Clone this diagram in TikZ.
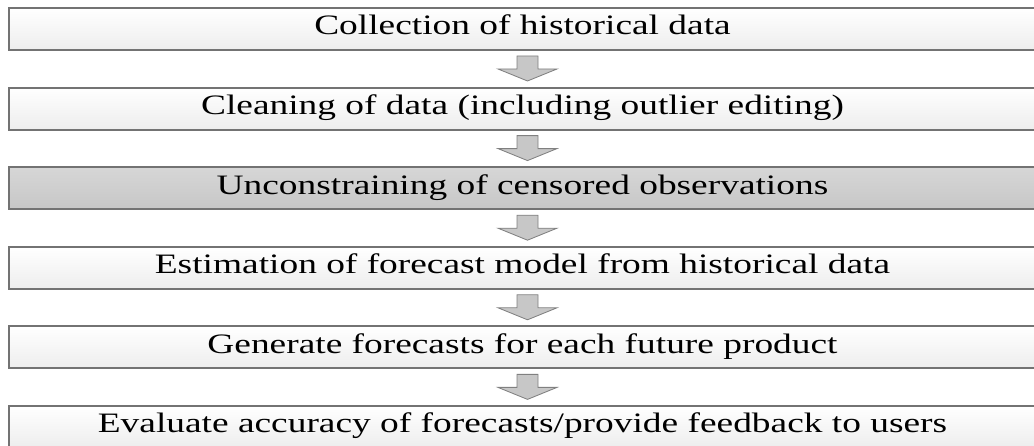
\documentclass[tikz,border=0pt]{standalone}
\usepackage{fontspec}
\setmainfont[FakeStretch=1.33]{Liberation Serif}
\usetikzlibrary{positioning,calc}
\tikzstyle{stage box} = [rectangle,draw=black!55,line width=0.05cm,top color=white,bottom color=black!7,minimum width=25.675cm,minimum height=1.05cm,inner sep=0pt,text height=0.5cm,text depth=0.2cm]
\tikzstyle{gray box}  = [stage box,top color=black!16,bottom color=black!22]
\tikzstyle{block arrow} = [fill=black!22,draw=black!50,line width=0.6pt]

\begin{document}
\begin{tikzpicture}[font=\fontsize{20}{24}\selectfont,
                    node distance=0.89cm
                    ]
\clip (0,0) rectangle (25.85,11.15);

    \node(b1)[stage box] at (13.0625,10.425) {Collection of historical data};
    \node(b2)[stage box, below=of b1] {Cleaning of data (including outlier editing)};
    \node(b3)[gray box,  below=of b2] {Unconstraining of censored observations};
    \node(b4)[stage box, below=of b3] {Estimation of forecast model from historical data};
    \node(b5)[stage box, below=of b4] {Generate forecasts for each future product};
    \node(b6)[stage box, below=of b5] {Evaluate accuracy of forecasts/provide feedback to users};

    \foreach \b in {b1,b2,b3,b4,b5}
        \draw[block arrow] ($(\b.south)+(0.125,-0.125)$) -- ++(0.2625,0) -- ++(0,-0.325) -- ++(0.475,0)
            -- ++(-0.7375,-0.3) -- ++(-0.7375,0.3) -- ++(0.475,0) -- ++(0,0.325) -- cycle;

\end{tikzpicture}
\end{document}
